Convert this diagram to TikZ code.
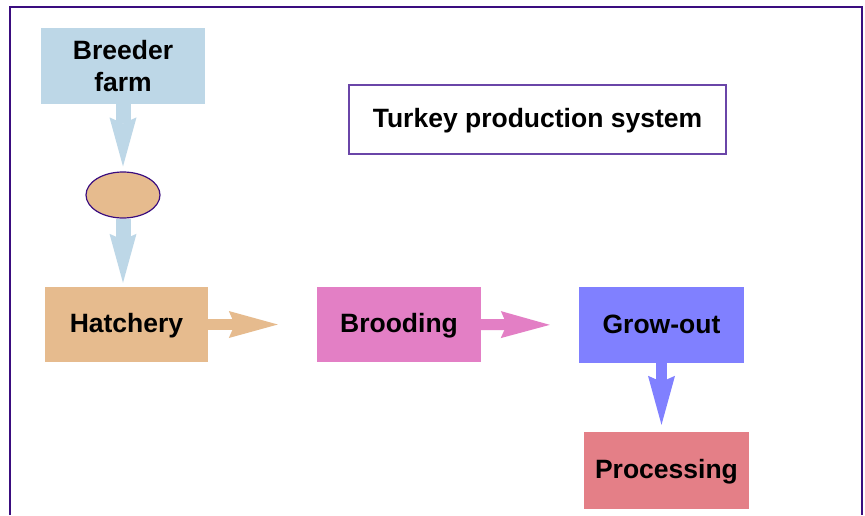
\documentclass[tikz,border=0pt]{standalone}
\usepackage{fontspec}
\setmainfont{Liberation Sans}
\usetikzlibrary{arrows.meta,shapes.geometric}
\definecolor{breederblue}{HTML}{BDD7E7}
\definecolor{tan}{HTML}{E6BB8E}
\definecolor{pinkm}{HTML}{E37FC5}
\definecolor{periw}{HTML}{8080FF}
\definecolor{salmon}{HTML}{E47F87}
\definecolor{framepurple}{HTML}{3A0D7F}
\definecolor{titlepurple}{HTML}{6A45A8}
\begin{document}
\begin{tikzpicture}[x=1pt,y=-1pt,
  box/.style={rectangle, inner sep=0pt, align=center, text=black,
    font=\fontsize{26.5}{32}\selectfont\bfseries},
  oneline/.style={text height=16pt, text depth=0pt},
  flow/.style={-{Stealth[length=49pt,width=27pt,inset=6pt,line width=0pt]}},
]
\useasboundingbox (0,0) rectangle (865,515);
\fill[white] (0,0) rectangle (865,515);
% frame
\draw[framepurple, line width=2.5pt] (10,515) -- (10,7) -- (862,7) -- (862,515);
% nodes
\node[box, fill=breederblue, minimum width=164pt, minimum height=76pt] (breeder) at (123,66) {Breeder\\farm};
\node[ellipse, draw=framepurple, line width=1.2pt, fill=tan, minimum width=74pt, minimum height=46pt, inner sep=0pt] (egg) at (123,195) {};
\node[box, oneline, fill=tan, minimum width=163pt, minimum height=75pt] (hatchery) at (126.5,324.5) {Hatchery};
\node[box, oneline, fill=pinkm, minimum width=164pt, minimum height=75pt] (brooding) at (399,324.5) {Brooding};
\node[box, oneline, fill=periw, minimum width=165pt, minimum height=76pt] (growout) at (661.5,325) {Grow-out};
\node[box, oneline, fill=salmon, minimum width=165pt, minimum height=77pt] (processing) at (666.5,470.5) {Processing};
\node[box, oneline, draw=titlepurple, line width=1.2pt, fill=white, minimum width=377pt, minimum height=69pt] (title) at (537.5,119.5) {Turkey production system};
% connectors
\draw[flow, breederblue, line width=15pt, shorten >=5pt] (breeder.south) -- (egg.north);
\draw[flow, breederblue, line width=15pt, shorten >=4pt] (egg.south) -- (egg.south |- hatchery.north);
\draw[flow, tan, line width=11pt, shorten >=39pt] (hatchery.east) -- (brooding.west);
\draw[flow, pinkm, line width=11pt, shorten >=29pt] (brooding.east) -- (growout.west);
\draw[flow, periw, line width=11pt, shorten >=7pt] (growout.south) -- (growout.south |- processing.north);
\end{tikzpicture}
\end{document}
